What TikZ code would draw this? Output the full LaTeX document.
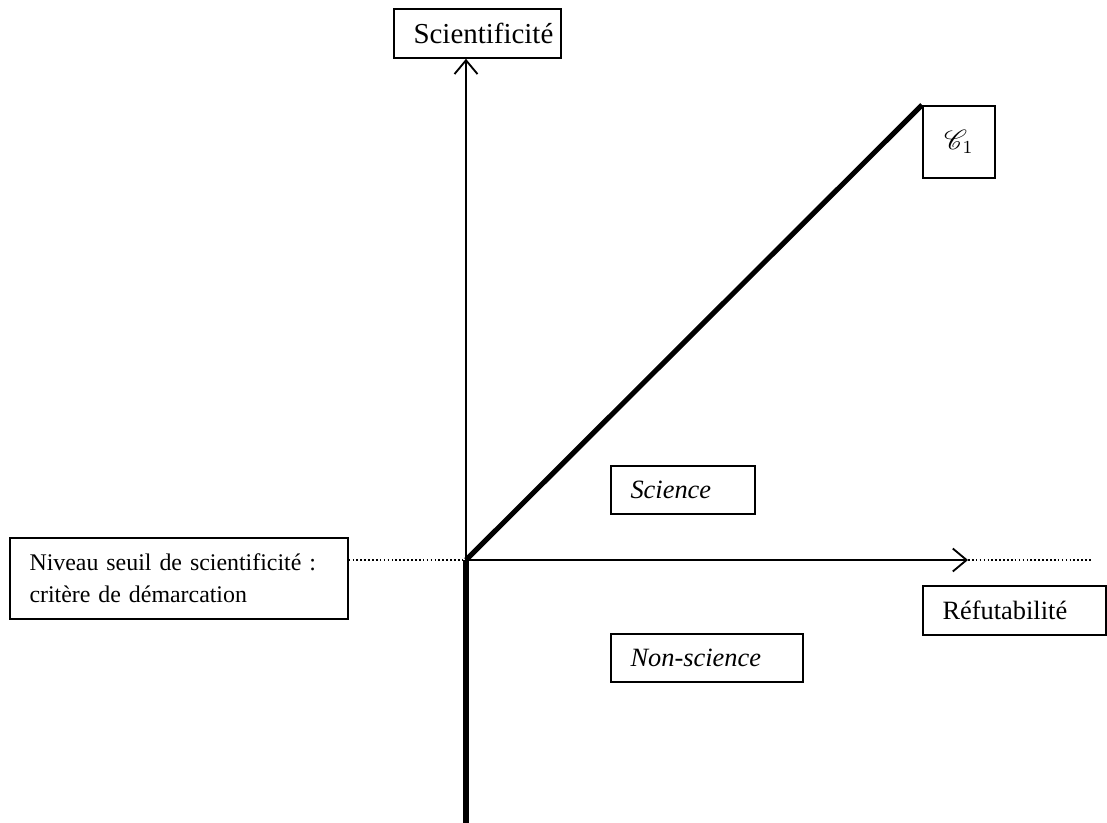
\documentclass[tikz,border=0pt]{standalone}
\usepackage{fontspec}
\setmainfont{Liberation Serif}[Ligatures=NoCommon]
\usepackage{mathrsfs}
\usetikzlibrary{arrows.meta}

\begin{document}
\begin{tikzpicture}[x=0.0153cm, y=-0.0153cm, font=\fontsize{11.5pt}{14pt}\selectfont,
    box/.style={draw, line width=0.8pt, anchor=north west, align=left, inner xsep=0.3cm, inner ysep=0pt},
    axis/.style={line width=0.8pt, -{Straight Barb[length=6pt, width=10pt, line width=0.8pt]}},
    heavy/.style={line width=2.2pt},
    seuil/.style={densely dotted, line width=0.7pt}]
    \useasboundingbox (0,0) rectangle (1107,823);
    %Coordinates
    \coordinate (O) at (466,560);
    \coordinate (bas) at (466,823);
    \coordinate (xfin) at (968,560);
    \coordinate (pfin) at (1092,560);

        %Boxes
    \node[box, text width=1.955cm, minimum height=0.75cm, font=\fontsize{12.6pt}{14pt}\selectfont] (sci) at (393,8) {Scientificité};
    \node[box, inner xsep=0pt, minimum width=1.10cm, minimum height=1.10cm] (c1) at (922,105) {$\mathscr{C}_{1}$};
    \node[box, text width=1.60cm, minimum height=0.734cm] (science) at (610,465) {\textit{Science}};
    \node[box, text width=2.34cm, minimum height=0.734cm] (nonsci) at (610,633) {\textit{Non-science}};
    \node[box, text width=4.57cm, minimum height=1.24cm, font=\fontsize{10.4pt}{14pt}\selectfont] (demarc) at (9,537) {Niveau seuil de scientificité :\\critère de démarcation};
    \node[box, text width=2.20cm, minimum height=0.75cm] (refut) at (922,585) {Réfutabilité};

        %Axis
    \draw[heavy] (bas) -- (O);
    \draw[axis] (O) -- (O |- sci.south);
    \draw[axis] (O) -- (xfin);
    %Threshold
    \draw[seuil] (demarc.east |- O) -- (O);
    \draw[seuil] (xfin) -- (pfin);
    %Theory
    \draw[heavy] (O) -- (c1.north west);
\end{tikzpicture}
\end{document}
